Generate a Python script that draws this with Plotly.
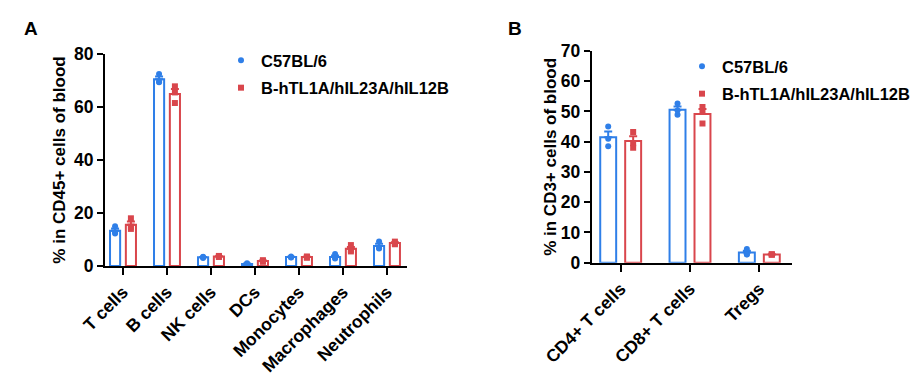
import numpy as np
import plotly.graph_objects as go

# ---------------- data ----------------
cats_a = ["T cells", "B cells", "NK cells", "DCs", "Monocytes", "Macrophages", "Neutrophils"]
wt_a = [
    [15.0, 12.3, 12.6],
    [72.5, 69.3, 69.5],
    [3.5, 3.0, 3.3],
    [1.0, 0.6, 0.8],
    [3.6, 3.2, 3.3],
    [4.5, 3.0, 2.8],
    [9.2, 6.8, 6.6],
]
hu_a = [
    [18.0, 14.0, 14.8],
    [67.8, 65.5, 61.5],
    [3.8, 3.4, 3.6],
    [2.2, 1.6, 1.8],
    [3.6, 3.1, 3.4],
    [7.9, 6.0, 5.5],
    [9.2, 8.5, 8.2],
]
cats_b = ["CD4+ T cells", "CD8+ T cells", "Tregs"]
wt_b = [
    [45.0, 41.0, 38.5],
    [52.6, 50.3, 48.9],
    [4.5, 2.8, 2.7],
]
hu_b = [
    [43.2, 39.5, 38.0],
    [51.5, 50.0, 46.0],
    [2.8, 2.6, 2.7],
]
series_names = ["C57BL/6", "B-hTL1A/hIL23A/hIL12B"]
yticks_a = [0, 20, 40, 60, 80]
yticks_b = [0, 10, 20, 30, 40, 50, 60, 70]

# ---------------- style ----------------
BLUE = "#2F7FE8"
RED = "#D9464C"
FONT = "Liberation Sans, Arial, sans-serif"
OFF = 0.18
BW = 0.23

fig = go.Figure()


def add_panel(cats, wt, hu, xa, ya, legend):
    x = np.arange(len(cats))
    for vals, col, sym, sgn, name in [
        (wt, BLUE, "circle", -1, series_names[0]),
        (hu, RED, "square", 1, series_names[1]),
    ]:
        arr = np.array(vals, dtype=float)
        mean = arr.mean(axis=1)
        sem = arr.std(axis=1, ddof=1) / np.sqrt(arr.shape[1])
        xc = x + sgn * OFF
        fig.add_trace(go.Bar(
            x=xc, y=mean, width=BW, xaxis=xa, yaxis=ya,
            marker=dict(color="white", line=dict(color=col, width=2)),
            error_y=dict(type="data", array=sem, arrayminus=[0] * len(sem),
                         color=col, thickness=2, width=4),
            showlegend=False, hoverinfo="skip",
        ))
        px_, py_ = [], []
        for i, row in enumerate(vals):
            for v in row:
                px_.append(xc[i])
                py_.append(v)
        fig.add_trace(go.Scatter(
            x=px_, y=py_, mode="markers", xaxis=xa, yaxis=ya,
            marker=dict(color=col, size=6, symbol=sym),
            name=name, legend=legend, legendgroup=legend + "_" + name,
        ))


add_panel(cats_a, wt_a, hu_a, "x", "y", "legend")
add_panel(cats_b, wt_b, hu_b, "x2", "y2", "legend2")

W, H = 917, 378
axis_common = dict(
    showline=True, linecolor="black", linewidth=2, ticks="outside",
    tickcolor="black", tickwidth=2, showgrid=False, zeroline=False,
    automargin=False,
    tickfont=dict(family=FONT, size=17.5, color="black", weight="bold"),
)
TITLE_FONT = dict(family=FONT, size=17, color="black", weight="bold")
LEG_FONT = dict(family=FONT, size=16.5, color="black", weight="bold")

fig.update_layout(
    width=W, height=H, margin=dict(l=0, r=0, t=0, b=0, autoexpand=False),
    plot_bgcolor="white", paper_bgcolor="white",
    barmode="overlay",
    font=dict(family=FONT, color="black"),
    xaxis=dict(**axis_common, domain=[105 / W, 407 / W], range=[-0.409, 6.455],
               tickmode="array", tickvals=list(range(len(cats_a))), ticktext=cats_a,
               tickangle=-45, ticklen=7, anchor="y"),
    yaxis=dict(**axis_common, domain=[112 / H, 324 / H], range=[0, 80],
               tickmode="array", tickvals=yticks_a, ticklen=6, anchor="x",
               title=dict(text="% in CD45+ cells of blood", standoff=4, font=TITLE_FONT)),
    xaxis2=dict(**axis_common, domain=[591.7 / W, 791.7 / W], range=[-0.418, 2.467],
                tickmode="array", tickvals=list(range(len(cats_b))), ticktext=cats_b,
                tickangle=-45, ticklen=7, anchor="y2"),
    yaxis2=dict(**axis_common, domain=[115.3 / H, 327 / H], range=[0, 70],
                tickmode="array", tickvals=yticks_b, ticklen=6, anchor="x2",
                title=dict(text="% in CD3+ cells of blood", standoff=0, font=TITLE_FONT)),
    legend=dict(x=221 / W, y=1 - 43 / H, xanchor="left", yanchor="top",
                font=LEG_FONT, bgcolor="rgba(0,0,0,0)", tracegroupgap=3,
                traceorder="grouped"),
    legend2=dict(x=682 / W, y=1 - 49 / H, xanchor="left", yanchor="top",
                 font=LEG_FONT, bgcolor="rgba(0,0,0,0)", tracegroupgap=3,
                 traceorder="grouped"),
    annotations=[
        dict(text="A", x=22 / W, y=1 - 28 / H, xref="paper", yref="paper",
             xanchor="left", yanchor="middle", showarrow=False,
             font=dict(family=FONT, size=19, color="black", weight="bold")),
        dict(text="B", x=506 / W, y=1 - 28 / H, xref="paper", yref="paper",
             xanchor="left", yanchor="middle", showarrow=False,
             font=dict(family=FONT, size=19, color="black", weight="bold")),
    ],
)

fig.write_html("out.html", config={"displayModeBar": False},
               post_script="document.body.style.margin='0';")
